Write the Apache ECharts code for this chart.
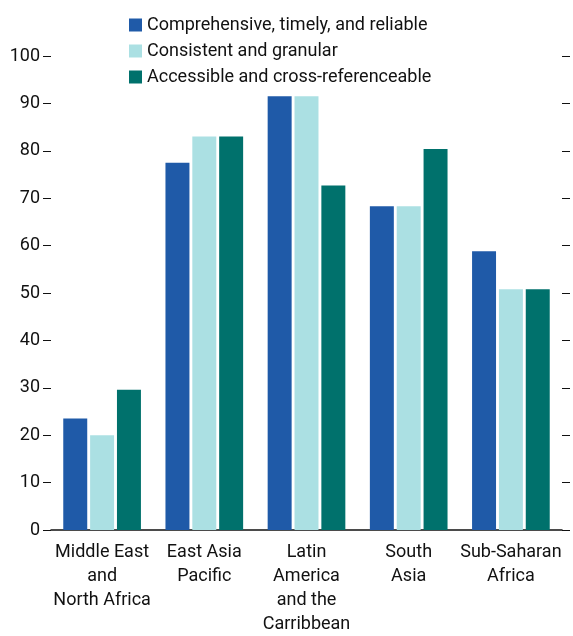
<!DOCTYPE html>
<html>
<head>
<meta charset="utf-8">
<script src="https://cdn.jsdelivr.net/npm/echarts@6/dist/echarts.min.js"></script>
<style>html,body{margin:0;padding:0;background:#fff}#c{width:573px;height:636px}</style>
</head>
<body>
<div id="c"></div>
<script>
var categories = ['Middle East\nand\nNorth Africa', 'East Asia\nPacific', 'Latin\nAmerica\nand the\nCarribbean', 'South\nAsia', 'Sub-Saharan\nAfrica'];
var seriesNames = ['Comprehensive, timely, and reliable', 'Consistent and granular', 'Accessible and cross-referenceable'];
var comprehensive = [23.5, 77.5, 91.5, 68.3, 58.8];
var consistent = [20, 83, 91.5, 68.3, 50.8];
var accessible = [29.6, 83, 72.7, 80.4, 50.8];
var colors = ['#1f5aa8', '#abe0e3', '#00716c'];

var FONT = "Roboto, 'Liberation Sans', sans-serif";
var chart = echarts.init(document.getElementById('c'));
var data = [comprehensive, consistent, accessible];
chart.setOption({
  animation: false,
  textStyle: {fontFamily: FONT},
  legend: {
    orient: 'vertical', left: 124, top: 11,
    itemWidth: 13, itemHeight: 13, itemGap: 8,
    icon: 'rect',
    textStyle: {fontFamily: FONT, fontSize: 18, color: '#111'},
    data: seriesNames
  },
  grid: {left: 51, right: 11, top: 56, bottom: 100},
  xAxis: {
    type: 'category', data: categories,
    axisLine: {lineStyle: {color: '#111', width: 1.5}},
    axisTick: {inside: true, length: 8, lineStyle: {color: '#111'}},
    axisLabel: {fontFamily: FONT, fontSize: 18, color: '#111', margin: 10, lineHeight: 24, interval: 0}
  },
  yAxis: [{
    type: 'value', min: 0, max: 100, interval: 10, position: 'left',
    axisLine: {show: false},
    axisTick: {show: true, length: 8, lineStyle: {color: '#111'}},
    axisLabel: {fontFamily: FONT, fontSize: 18, color: '#111', margin: 11},
    splitLine: {show: false}
  }, {
    type: 'value', min: 0, max: 100, interval: 10, position: 'right',
    axisLine: {show: false},
    axisTick: {show: true, length: 8, lineStyle: {color: '#111'}},
    axisLabel: {show: false},
    splitLine: {show: false}
  }],
  series: seriesNames.map(function (n, i) {
    return {
      name: n, type: 'bar', data: data[i],
      itemStyle: {color: colors[i]},
      barCategoryGap: '24%', barGap: '12%'
    };
  })
});
</script>
</body>
</html>
